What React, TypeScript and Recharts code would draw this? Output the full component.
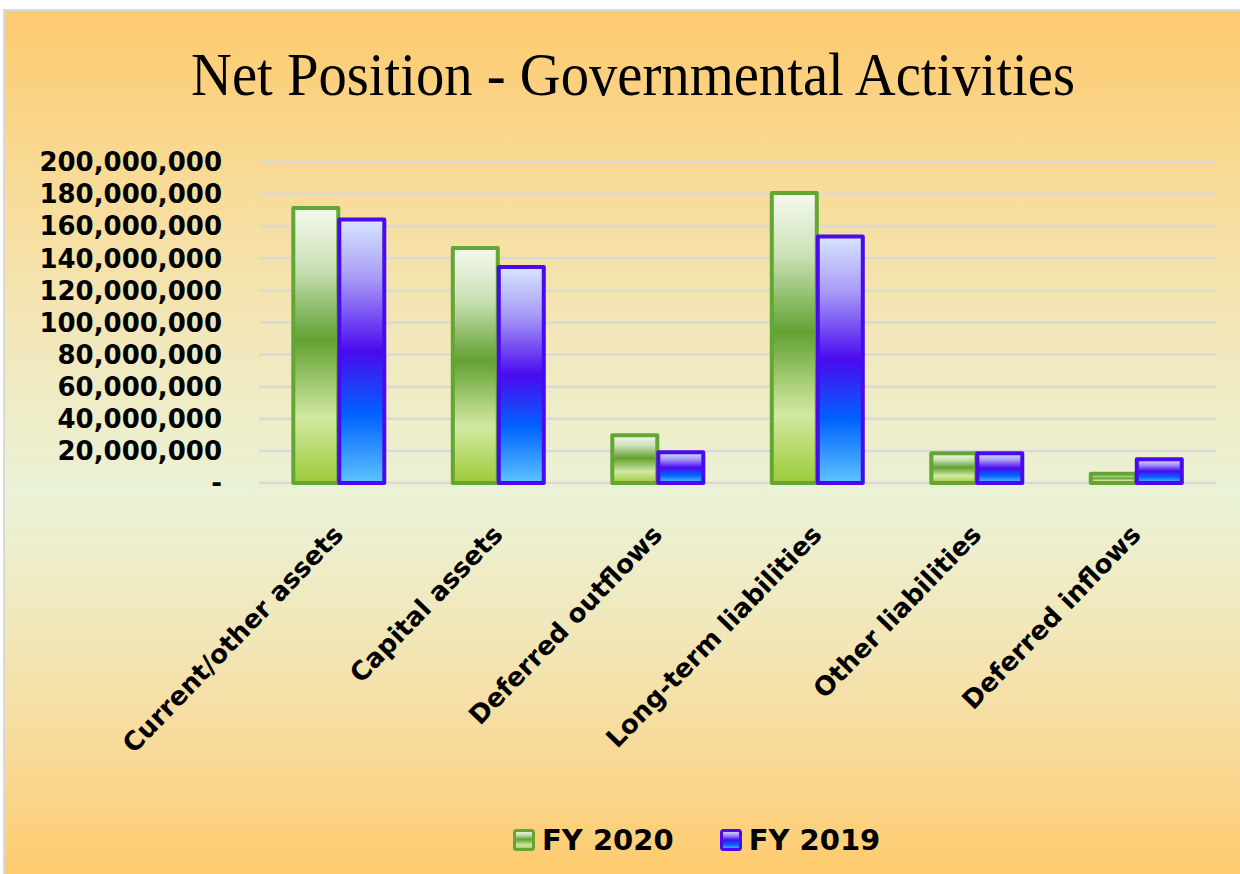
import { Bar, BarChart, CartesianGrid, Legend, XAxis, YAxis } from "recharts";

const categories = [
  "Current/other assets",
  "Capital assets",
  "Deferred outflows",
  "Long-term liabilities",
  "Other liabilities",
  "Deferred inflows",
];
const fy2020 = [171300000, 146400000, 29700000, 180700000, 18500000, 5800000];
const fy2019 = [164200000, 134600000, 19200000, 153600000, 18500000, 14800000];
const yTicks = [0, 20e6, 40e6, 60e6, 80e6, 100e6, 120e6, 140e6, 160e6, 180e6, 200e6];

const data = categories.map((name, i) => ({ name, fy2020: fy2020[i], fy2019: fy2019[i] }));

const LABEL_FONT = "'DejaVu Sans', Verdana, sans-serif";

function AngledTick(props: any) {
  const { x, y, payload } = props;
  return (
    <g transform={`translate(${x + 6},${y + 45})`}>
      <text
        transform="rotate(-46)"
        textAnchor="end"
        fontFamily={LABEL_FONT}
        fontWeight="bold"
        fontSize={26}
        fill="#000"
      >
        {payload.value}
      </text>
    </g>
  );
}

function LegendBox() {
  const items = [
    { label: "FY 2020", fill: "url(#gGreen)", stroke: "#64A633" },
    { label: "FY 2019", fill: "url(#gBlue)", stroke: "#4A0AEE" },
  ];
  return (
    <div style={{ display: "flex", gap: 46, alignItems: "center" }}>
      {items.map((it) => (
        <div key={it.label} style={{ display: "flex", alignItems: "center", gap: 7 }}>
          <svg width={22} height={22}>
            <rect x={1.5} y={1.5} width={19} height={19} rx={2} fill={it.fill} stroke={it.stroke} strokeWidth={3} />
          </svg>
          <span style={{ fontFamily: LABEL_FONT, fontWeight: "bold", fontSize: 29, color: "#000" }}>
            {it.label}
          </span>
        </div>
      ))}
    </div>
  );
}

export default function App() {
  return (
    <div style={{ position: "fixed", left: 0, top: 0, width: 1240, height: 874, background: "#fff" }}>
      <div
        style={{
          position: "absolute",
          left: 3,
          top: 9,
          width: 1240,
          height: 870,
          borderTop: "2px solid #D9D9D9",
          borderLeft: "2px solid #D9D9D9",
          background:
            "linear-gradient(to bottom, #FDCA6E 0%, #F8DB98 20%, #F1E9BE 40%, #EAF2D6 56%, #F1E8BC 70%, #F8D996 86%, #FFCA6A 100%)",
        }}
      />
      <div style={{ position: "absolute", left: 0, top: 0 }}>
        <svg width={1240} height={120} style={{ position: "absolute", left: 0, top: 0 }}>
          <text
            x={191}
            y={95}
            fontFamily="'Liberation Serif', 'Times New Roman', serif"
            fontSize={61}
            textLength={884}
            lengthAdjust="spacingAndGlyphs"
            fill="#000"
          >
            Net Position - Governmental Activities
          </text>
        </svg>
        <BarChart
          width={1240}
          height={874}
          data={data}
          margin={{ top: 162, right: 24, bottom: 0, left: 0 }}
          barGap={1}
          barCategoryGap="21.5%"
        >
          <defs>
            <linearGradient id="gGreen" x1="0" y1="0" x2="0" y2="1">
              <stop offset="0%" stopColor="#F6F9F0" />
              <stop offset="22%" stopColor="#C9E0B4" />
              <stop offset="48%" stopColor="#62A232" />
              <stop offset="76%" stopColor="#D2E8A2" />
              <stop offset="100%" stopColor="#9CCB38" />
            </linearGradient>
            <linearGradient id="gBlue" x1="0" y1="0" x2="0" y2="1">
              <stop offset="0%" stopColor="#D6E6FF" />
              <stop offset="22%" stopColor="#A99CF6" />
              <stop offset="50%" stopColor="#4A0AEF" />
              <stop offset="74%" stopColor="#0062FF" />
              <stop offset="100%" stopColor="#5EC4FF" />
            </linearGradient>
          </defs>
          <CartesianGrid vertical={false} stroke="#D9D9D9" strokeWidth={2.5} />
          <XAxis
            dataKey="name"
            axisLine={false}
            tickLine={false}
            interval={0}
            tick={<AngledTick />}
            height={391}
          />
          <YAxis
            domain={[0, 200000000]}
            ticks={yTicks}
            interval={0}
            width={259}
            axisLine={false}
            tickLine={false}
            tickSize={0}
            tickMargin={37}
            tickFormatter={(v: number) => (v === 0 ? "-" : v.toLocaleString("en-US"))}
            tick={{ fontFamily: LABEL_FONT, fontWeight: "bold", fontSize: 26, fill: "#000" }}
          />
          <Legend
            layout="horizontal"
            verticalAlign="middle"
            align="center"
            content={() => <LegendBox />}
            wrapperStyle={{ position: "absolute", left: 513, top: 823, width: "auto", bottom: "auto" }}
          />
          <Bar
            dataKey="fy2020"
            name="FY 2020"
            fill="url(#gGreen)"
            stroke="#64A633"
            strokeWidth={4}
            strokeLinejoin="round"
            isAnimationActive={false}
          />
          <Bar
            dataKey="fy2019"
            name="FY 2019"
            fill="url(#gBlue)"
            stroke="#4A0AEE"
            strokeWidth={4}
            strokeLinejoin="round"
            isAnimationActive={false}
          />
        </BarChart>
      </div>
    </div>
  );
}
